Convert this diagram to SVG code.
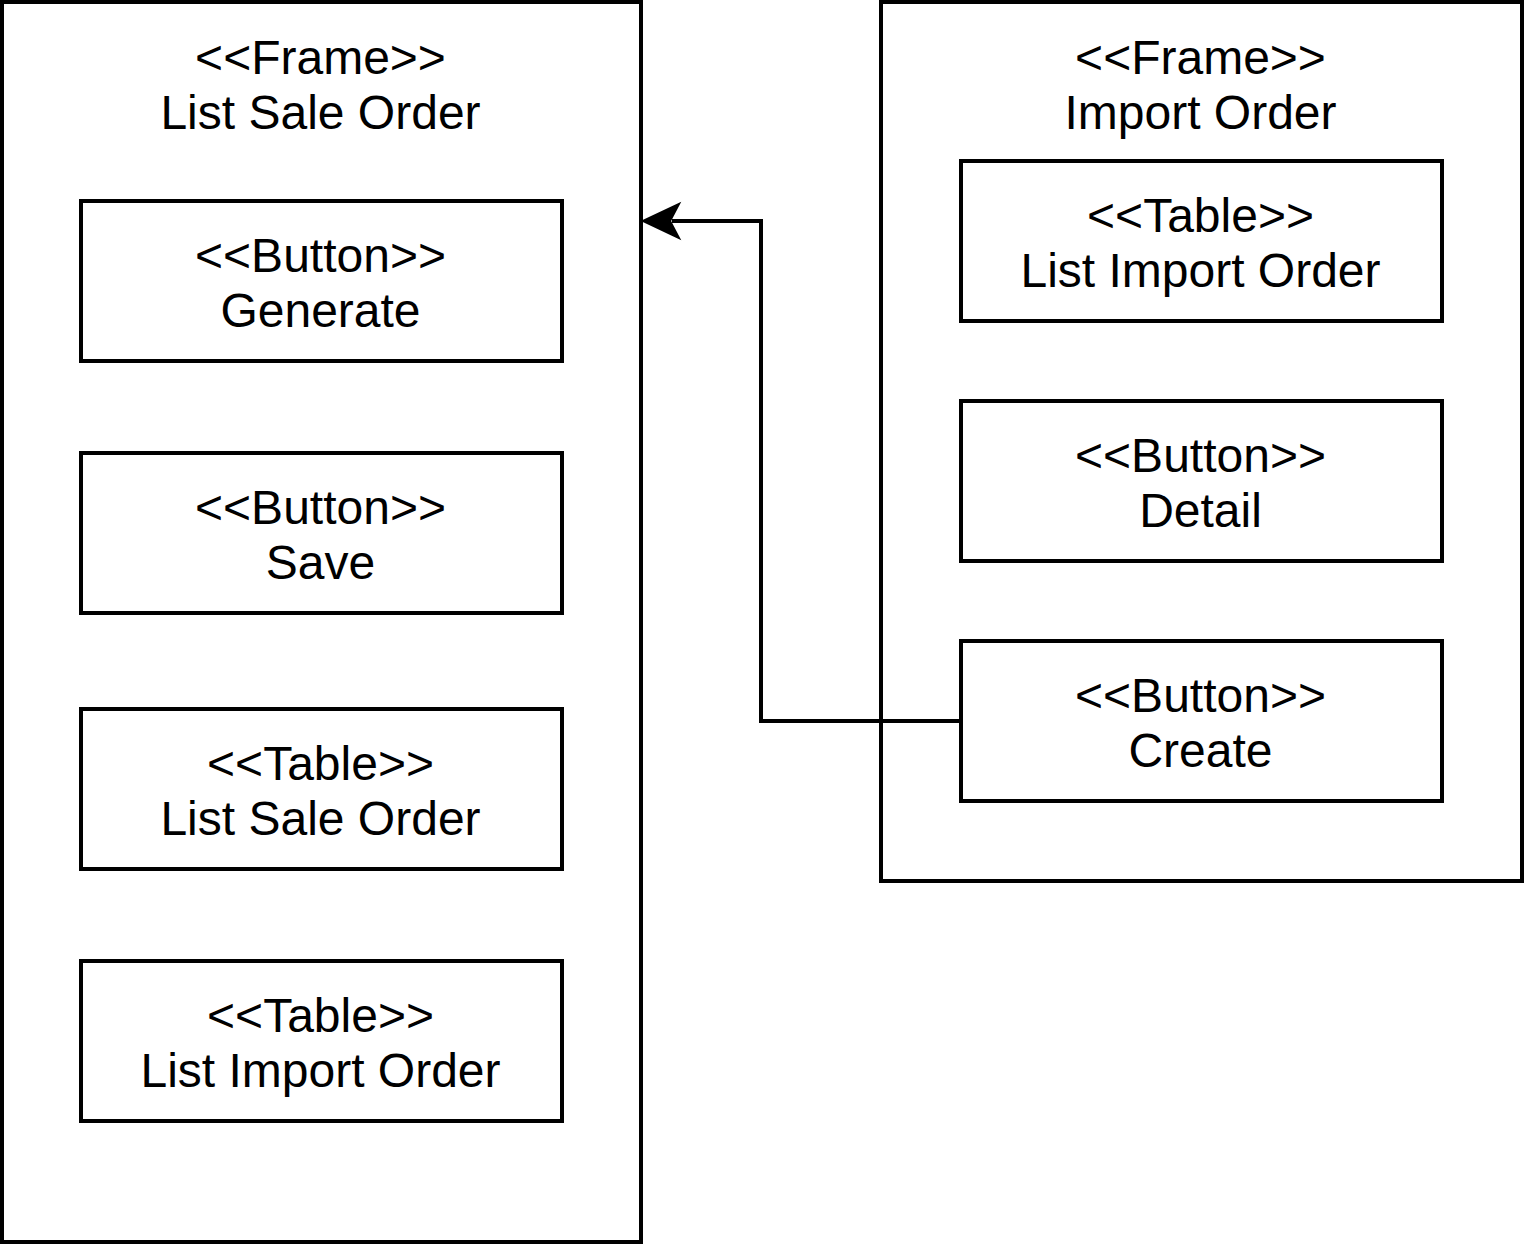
<svg xmlns="http://www.w3.org/2000/svg" width="1524" height="1244" viewBox="0 0 1524 1244">
<style>
.box{fill:#fff;stroke:#000;stroke-width:4}
.frame{fill:none;stroke:#000;stroke-width:4}
text{font-family:"Liberation Sans",Arial,sans-serif;font-size:48px;fill:#000;text-anchor:middle}
.edge{fill:none;stroke:#000;stroke-width:4}
</style>
<rect width="1524" height="1244" fill="#fff"/>
<g id="frame-list-sale-order">
<rect class="frame" x="2" y="2" width="639" height="1240"/>
<text x="320.5" y="74">&lt;&lt;Frame&gt;&gt;</text>
<text x="320.5" y="129">List Sale Order</text>
</g>
<g id="frame-import-order">
<rect class="frame" x="881" y="2" width="641" height="879"/>
<text x="1200.5" y="74">&lt;&lt;Frame&gt;&gt;</text>
<text x="1200.5" y="129">Import Order</text>
</g>
<g id="btn-generate">
<rect class="box" x="81" y="201" width="481" height="160"/>
<text x="320.5" y="272">&lt;&lt;Button&gt;&gt;</text>
<text x="320.5" y="327">Generate</text>
</g>
<g id="btn-save">
<rect class="box" x="81" y="453" width="481" height="160"/>
<text x="320.5" y="524">&lt;&lt;Button&gt;&gt;</text>
<text x="320.5" y="579">Save</text>
</g>
<g id="table-list-sale-order">
<rect class="box" x="81" y="709" width="481" height="160"/>
<text x="320.5" y="780">&lt;&lt;Table&gt;&gt;</text>
<text x="320.5" y="835">List Sale Order</text>
</g>
<g id="table-list-import-order-left">
<rect class="box" x="81" y="961" width="481" height="160"/>
<text x="320.5" y="1032">&lt;&lt;Table&gt;&gt;</text>
<text x="320.5" y="1087">List Import Order</text>
</g>
<g id="table-list-import-order-right">
<rect class="box" x="961" y="161" width="481" height="160"/>
<text x="1200.5" y="232">&lt;&lt;Table&gt;&gt;</text>
<text x="1200.5" y="287">List Import Order</text>
</g>
<g id="btn-detail">
<rect class="box" x="961" y="401" width="481" height="160"/>
<text x="1200.5" y="472">&lt;&lt;Button&gt;&gt;</text>
<text x="1200.5" y="527">Detail</text>
</g>
<g id="btn-create">
<rect class="box" x="961" y="641" width="481" height="160"/>
<text x="1200.5" y="712">&lt;&lt;Button&gt;&gt;</text>
<text x="1200.5" y="767">Create</text>
</g>
<g id="connectors">
<path class="edge" d="M961,721 L761,721 L761,221 L672,221"/>
<path d="M643,221 L679,204 L670,221 L679,238 Z" fill="#000" stroke="#000" stroke-width="2"/>
</g>
</svg>
